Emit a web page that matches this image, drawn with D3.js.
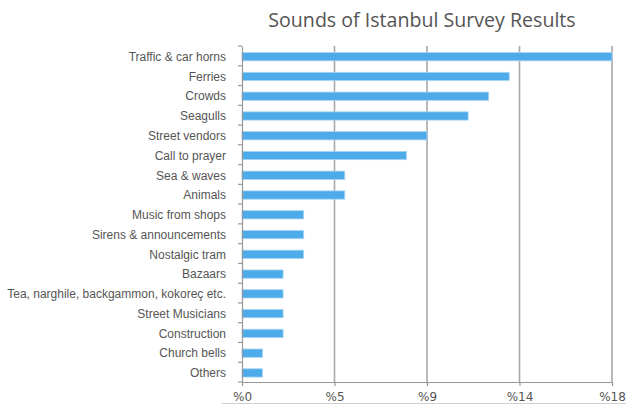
<!DOCTYPE html>
<html>
<head>
<meta charset="utf-8">
<script src="https://cdn.jsdelivr.net/npm/d3@7"></script>
<style>
  html, body { margin: 0; padding: 0; background: #fff; }
  svg { display: block; }
</style>
</head>
<body>
<svg id="chart" width="626" height="406"></svg>
<script>
const title = "Sounds of Istanbul Survey Results";
const categories = [
  "Traffic & car horns", "Ferries", "Crowds", "Seagulls", "Street vendors",
  "Call to prayer", "Sea & waves", "Animals", "Music from shops",
  "Sirens & announcements", "Nostalgic tram", "Bazaars",
  "Tea, narghile, backgammon, kokoreç etc.", "Street Musicians",
  "Construction", "Church bells", "Others"
];
const values = [18, 13, 12, 11, 9, 8, 5, 5, 3, 3, 3, 2, 2, 2, 2, 1, 1];
const tickValues = [0, 4.5, 9, 13.5, 18];
const tickLabels = ["%0", "%5", "%9", "%14", "%18"];

const svg = d3.select("#chart");
const m = { left: 242, right: 612, top: 46, bottom: 382 };

const x = d3.scaleLinear().domain([0, 18]).range([m.left, m.right]);
const y = d3.scaleBand().domain(categories).range([m.top, m.bottom])
  .paddingInner(0.58).paddingOuter(0.29);
const yOuter = d3.scaleBand().domain(categories).range([m.top, m.bottom]);

// title
svg.append("text")
  .attr("x", 422).attr("y", 27)
  .attr("text-anchor", "middle")
  .attr("font-family", "'Open Sans', sans-serif")
  .attr("font-size", 19.6)
  .attr("fill", "#555")
  .text(title);

// vertical gridlines
svg.append("g").selectAll("line")
  .data(tickValues.slice(1))
  .join("line")
  .attr("x1", d => x(d)).attr("x2", d => x(d))
  .attr("y1", m.top).attr("y2", m.bottom)
  .attr("stroke", "#a8a8a8").attr("stroke-width", 1.6);

// bars
svg.append("g").selectAll("rect")
  .data(categories)
  .join("rect")
  .attr("x", x(0))
  .attr("y", d => y(d) + 0.8)
  .attr("width", (d, i) => x(values[i]) - x(0))
  .attr("height", y.bandwidth())
  .attr("fill", "#4eabe9")
  .attr("stroke", "#a9d5f4")
  .attr("stroke-width", 0.8);

// bottom axis
const xAxis = d3.axisBottom(x)
  .tickValues(tickValues)
  .tickFormat((d, i) => tickLabels[i])
  .tickSize(4)
  .tickSizeOuter(0);
const gx = svg.append("g")
  .attr("transform", `translate(0,${m.bottom})`)
  .call(xAxis);
gx.select(".domain").attr("stroke", "#999").attr("stroke-width", 1.2);
gx.selectAll(".tick line").attr("stroke", "#999").attr("stroke-width", 1.2);
gx.selectAll(".tick text")
  .attr("y", 10)
  .attr("font-family", "'DejaVu Sans', Verdana, sans-serif")
  .attr("font-size", 12)
  .attr("fill", "#555");

// left axis
const yAxis = d3.axisLeft(yOuter).tickSize(0).tickPadding(16);
const gy = svg.append("g")
  .attr("transform", `translate(${m.left},0)`)
  .call(yAxis);
gy.select(".domain").attr("stroke", "#999").attr("stroke-width", 1.2);
gy.selectAll(".tick text")
  .attr("dy", "0.42em")
  .attr("font-family", "'Liberation Sans', Helvetica, Arial, sans-serif")
  .attr("font-size", 12)
  .attr("fill", "#555");

// category boundary ticks
const bounds = categories.map(c => yOuter(c)).concat([m.bottom]);
svg.append("g").selectAll("line")
  .data(bounds)
  .join("line")
  .attr("x1", m.left - 4).attr("x2", m.left)
  .attr("y1", d => d).attr("y2", d => d)
  .attr("stroke", "#999").attr("stroke-width", 1.2);

// faint bottom rule
svg.append("line")
  .attr("x1", 222).attr("x2", 626)
  .attr("y1", 403.5).attr("y2", 403.5)
  .attr("stroke", "#d0d0d0").attr("stroke-width", 1);
</script>
</body>
</html>
